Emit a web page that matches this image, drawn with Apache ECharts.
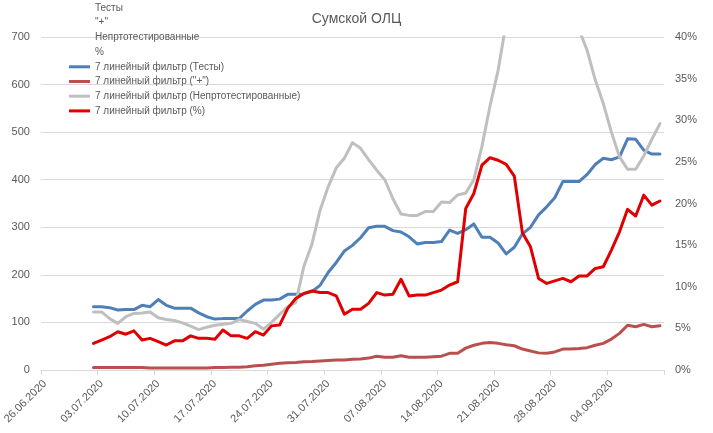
<!DOCTYPE html>
<html>
<head>
<meta charset="utf-8">
<script src="https://cdn.jsdelivr.net/npm/echarts@6/dist/echarts.min.js"></script>
<style>
html,body{margin:0;padding:0;background:#fff;}
#chart{width:713px;height:433px;}
</style>
</head>
<body>
<div id="chart"></div>
<script>
var dates = [
'26.06.2020','27.06.2020','28.06.2020','29.06.2020','30.06.2020',
'01.07.2020','02.07.2020','03.07.2020','04.07.2020','05.07.2020','06.07.2020','07.07.2020','08.07.2020','09.07.2020','10.07.2020',
'11.07.2020','12.07.2020','13.07.2020','14.07.2020','15.07.2020','16.07.2020','17.07.2020','18.07.2020','19.07.2020','20.07.2020',
'21.07.2020','22.07.2020','23.07.2020','24.07.2020','25.07.2020','26.07.2020','27.07.2020','28.07.2020','29.07.2020','30.07.2020','31.07.2020',
'01.08.2020','02.08.2020','03.08.2020','04.08.2020','05.08.2020','06.08.2020','07.08.2020','08.08.2020','09.08.2020','10.08.2020',
'11.08.2020','12.08.2020','13.08.2020','14.08.2020','15.08.2020','16.08.2020','17.08.2020','18.08.2020','19.08.2020','20.08.2020',
'21.08.2020','22.08.2020','23.08.2020','24.08.2020','25.08.2020','26.08.2020','27.08.2020','28.08.2020','29.08.2020','30.08.2020','31.08.2020',
'01.09.2020','02.09.2020','03.09.2020','04.09.2020','05.09.2020','06.09.2020','07.09.2020','08.09.2020','09.09.2020','10.09.2020'
];

var seriesNames = ['Тесты', '"+"', 'Непртотестированные', '%'];
var trendNames = ['7 линейный фильтр (Тесты)', '7 линейный фильтр ("+")', '7 линейный фильтр (Непртотестированные)', '7 линейный фильтр (%)'];

var testsMA = [null,null,null,null,null,null,
133,133,131,126,127,127,136,133,148,136,
130,130,130,120,112,107,108,108,108,124,
138,147,147,149,159,159,160,165,178,205,
226,250,262,278,299,302,302,293,290,280,
265,268,268,270,294,287,295,307,279,279,
267,244,258,286,300,326,343,362,396,396,
396,411,432,445,442,448,486,485,462,454,454];

var plusMA = [null,null,null,null,null,null,
5,5,5,5,5,5,5,4,4,4,
4,4,4,4,4,5,5,6,6,7,
9,10,12,14,15,16,17.5,18,19,20,
21,21,22.5,23,25,29,27,27,30,27,
27,27,28,29,35,35,46,52,56,58,
56,53,51,44,40,36,35,38,44,44,
45,47,52,56,65,77,94,91,96,91,93];

var untestedMA = [null,null,null,null,null,null,
122,122,108,98,112,119,120,122,110,106,
104,99,92,85,90,94,96,98,106,102,
98,86,100,117,133,142,218,265,336,385,
425,445,478,466,442,420,400,360,328,325,
325,333,333,353,352,368,372,400,470,555,
630,730,800,860,900,920,900,850,790,740,
715,672,610,560,500,448,422,422,450,485,518];

var pctMA = [null,null,null,null,null,null,
3.2,3.6,4.0,4.6,4.3,4.7,3.6,3.8,3.4,3.0,
3.5,3.5,4.1,3.8,3.8,3.7,4.8,4.1,4.1,3.8,
4.6,4.2,5.3,5.4,7.4,8.6,9.2,9.5,9.3,9.3,
8.9,6.7,7.3,7.3,8.0,9.3,9.0,9.1,10.9,8.9,
9.0,9.0,9.3,9.6,10.2,10.6,19.4,21.2,24.6,25.5,
25.2,24.7,23.3,16.5,14.8,11.0,10.4,10.7,11.0,10.6,
11.3,11.3,12.2,12.4,14.4,16.6,19.3,18.5,21.0,19.8,20.3];

var leftTicks = {min: 0, max: 700, interval: 100};
var rightTicks = {min: 0, max: 40, interval: 5};

var colors = ['#4f7fb8', '#b9504e', '#bfbfbf', '#e00000'];
var trendData = [testsMA, plusMA, untestedMA, pctMA];
var trendAxis = [0, 0, 0, 1];

var series = [];
seriesNames.forEach(function (n) {
  series.push({name: n, type: 'line', data: [], color: 'rgba(0,0,0,0)', symbol: 'none'});
});
trendNames.forEach(function (n, i) {
  series.push({
    name: n, type: 'line', data: trendData[i], yAxisIndex: trendAxis[i],
    color: colors[i], symbol: 'none', showSymbol: false,
    lineStyle: {width: 3, color: colors[i], join: 'round', cap: 'round'},
    clip: true, connectNulls: false
  });
});

var chart = echarts.init(document.getElementById('chart'), null, {renderer: 'canvas'});
chart.setOption({
  animation: false,
  backgroundColor: '#ffffff',
  textStyle: {fontFamily: 'Liberation Sans'},
  title: {
    text: 'Сумской ОЛЦ', left: 'center', top: 7,
    textStyle: {fontSize: 14, fontWeight: 'normal', color: '#595959', fontFamily: 'Liberation Sans'}
  },
  legend: {
    orient: 'vertical', left: 69, top: 2, padding: 0,
    icon: 'rect', itemWidth: 21, itemHeight: 3, itemGap: 2.7,
    textStyle: {fontSize: 10, color: '#595959', lineHeight: 12, fontFamily: 'Liberation Sans'},
    data: seriesNames.concat(trendNames),
    selectedMode: false
  },
  grid: {left: 39, right: 49, top: 37, bottom: 63, containLabel: false},
  xAxis: {
    type: 'category', data: dates, boundaryGap: true,
    axisLine: {lineStyle: {color: '#d9d9d9', width: 1}},
    axisTick: {show: true, interval: 6, length: 5, lineStyle: {color: '#d9d9d9'}},
    axisLabel: {interval: 6, rotate: 45, fontSize: 11, color: '#595959', margin: 12, fontFamily: 'Liberation Sans'},
    splitLine: {show: false}
  },
  yAxis: [
    {
      type: 'value', min: leftTicks.min, max: leftTicks.max, interval: leftTicks.interval,
      axisLine: {show: false}, axisTick: {show: false},
      axisLabel: {fontSize: 11, color: '#595959', margin: 11, fontFamily: 'Liberation Sans'},
      splitLine: {lineStyle: {color: '#d9d9d9', width: 1}}
    },
    {
      type: 'value', min: rightTicks.min, max: rightTicks.max, interval: rightTicks.interval,
      axisLine: {show: false}, axisTick: {show: false},
      axisLabel: {fontSize: 11, color: '#595959', margin: 11, formatter: '{value}%', fontFamily: 'Liberation Sans'},
      splitLine: {show: false}
    }
  ],
  series: series
});
</script>
</body>
</html>
